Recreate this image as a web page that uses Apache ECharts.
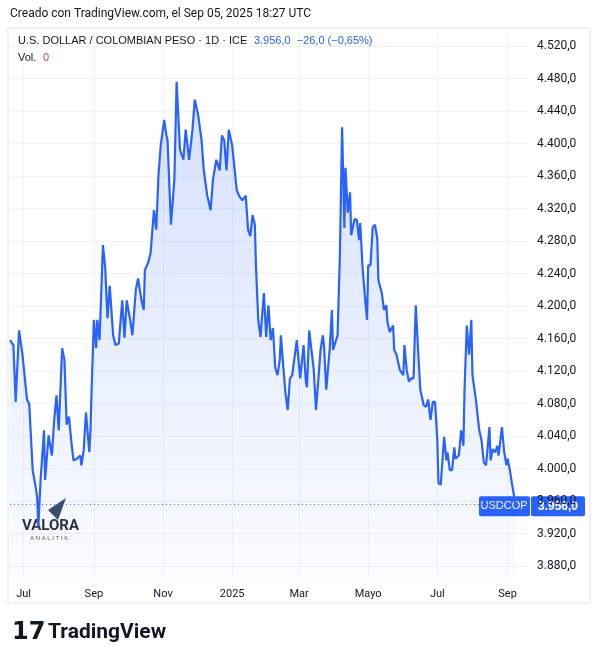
<!DOCTYPE html>
<html><head><meta charset="utf-8">
<script src="https://cdn.jsdelivr.net/npm/echarts@6/dist/echarts.min.js"></script>
<style>html,body{margin:0;padding:0;background:#fff}#c{width:598px;height:664px}</style>
</head><body><div id="c"></div>
<script>
// day number since 2024-07-01
const days=[-12,-11,-9,-7,-4,-1,3,5,8,11,12,13,15,18,19,22,25,27,29,31,34,36,38,40,42,44,47,50,51,53,55,58,59,60,62,64,65,67,70,72,74,76,79,81,84,87,89,91,94,96,99,101,104,106,107,110,112,115,117,119,121,124,126,127,130,133,135,138,141,143,146,149,151,154,157,159,162,165,167,170,173,175,177,179,181,184,188,190,193,196,198,200,202,204,205,207,
209,212,214,216,218,220,222,224,226,227,229,231,233,235,237,241,244,247,249,250,252,256,258,262,264,265,267,270,272,273,277,279,281,283,284,286,288,289,292,294,296,297,299,301,303,304,306,308,310,312,313,316,318,320,321,323,326,327,329,332,335,336,338,340,342,344,346,348,350,351,353,355,357,358,359,361,363,365,366,368,371,373,374,376,378,380,381,384,386,388,389,391,393,395,396,399,402,404,406,408,411,412,414,416,418,419,422,424,426,427,429,431,433,434];
const values=[4158,4160,4152,4082,4170,4140,4085,4079,3998,3974,3964,3928,3986,4047,3986,4041,4016,4060,4090,4047,4148,4134,4054,4064,4035,4010,4012,4016,4004,4022,4069,4020,4047,4097,4183,4148,4183,4158,4275,4247,4185,4225,4164,4152,4154,4207,4161,4207,4183,4164,4220,4234,4207,4195,4244,4254,4265,4318,4294,4361,4398,4429,4410,4404,4300,4355,4476,4392,4380,4417,4380,4417,4454,4435,4404,4367,4336,4318,4355,4380,4367,4410,4404,4367,4417,4398,4343,4336,4330,4336,4294,4286,4312,4300,4250,4183,
4162,4216,4162,4201,4158,4173,4124,4115,4134,4164,4127,4093,4072,4111,4115,4158,4111,4152,4107,4100,4170,4121,4072,4146,4164,4152,4097,4146,4195,4146,4164,4260,4420,4296,4370,4315,4340,4287,4307,4306,4281,4302,4248,4214,4183,4250,4250,4297,4300,4283,4232,4216,4195,4201,4180,4168,4176,4146,4140,4121,4115,4152,4121,4107,4111,4111,4201,4146,4097,4097,4078,4076,4085,4072,4060,4082,4082,4035,3982,3980,4039,4010,4020,3998,3998,4026,4012,4016,4047,4028,4097,4176,4140,4183,4115,4085,4047,4035,4008,4004,4051,4010,4024,4020,4028,4016,4051,4020,4004,4012,3998,3980,3964,3956];
const monthTicks=[0,62,123,184,243,304,365,427];
const monthLabels=['Jul','Sep','Nov','2025','Mar','Mayo','Jul','Sep'];
const priceTicks=[3880,3920,3960,4000,4040,4080,4120,4160,4200,4240,4280,4320,4360,4400,4440,4480,4520];
const last=3956;
const fmt=v=>{const s=v.toFixed(1).split('.');return s[0].replace(/\B(?=(\d{3})+(?!\d))/g,'.')+','+s[1];};
const ch=echarts.init(document.getElementById('c'));
ch.setOption({
 animation:false,
 textStyle:{fontFamily:'Roboto, sans-serif'},
 graphic:[
  {type:'text',left:10,top:8,style:{text:'Creado con TradingView.com, el Sep 05, 2025 18:27 UTC',fontSize:12,fill:'#131722',fontFamily:'Roboto'}},
  {type:'rect',shape:{x:8,y:28,width:582,height:575},style:{fill:'none',stroke:'#e0e3eb',lineWidth:1}},
  {type:'text',left:18,top:35,style:{rich:{a:{fontSize:11,fill:'#131722'},b:{fontSize:11,fill:'#2962ff'}},text:'{a|U.S. DOLLAR / COLOMBIAN PESO · 1D · ICE}  {b|3.956,0  −26,0 (−0,65%)}'}},
  {type:'text',left:18,top:52,style:{rich:{a:{fontSize:11,fill:'#131722'},r:{fontSize:11,fill:'#f23645'}},text:'{a|Vol.}  {r|0}'}},
  {type:'polygon',shape:{points:[[48,510],[66,498],[58,520]]},style:{fill:'#3a4a6b'}},
  {type:'text',left:22,top:519,style:{text:'VALORA',fontSize:15,fontWeight:'bold',fill:'#2a2f3a',fontFamily:'Roboto'}},
  {type:'text',left:30,top:535,style:{text:'A N A L I T I K',fontSize:6,fill:'#555'}},
  {type:'text',left:12,top:621,style:{text:'17',fontSize:24,fontWeight:'900',fill:'#131722',fontFamily:'DejaVu Sans'}},
  {type:'text',left:48,top:622,style:{text:'TradingView',fontSize:21,fontWeight:'bold',fill:'#131722',fontFamily:'Roboto'}}
 ],
 grid:{left:10,right:70,top:30,bottom:87},
 xAxis:{type:'value',min:-12,max:445,
  axisLine:{show:false},axisTick:{show:false,customValues:monthTicks},
  axisLabel:{customValues:monthTicks,formatter:v=>monthLabels[monthTicks.indexOf(v)]||'',color:'#131722',fontSize:11,margin:12},
  splitLine:{show:true,lineStyle:{color:'#f0f3fa'}}},
 yAxis:{type:'value',position:'right',min:3866.5,max:4539.7,
  axisLine:{show:false},axisTick:{show:false,customValues:priceTicks},
  axisLabel:{customValues:priceTicks,formatter:v=>fmt(v),color:'#131722',fontSize:12,margin:9},
  splitLine:{show:true,lineStyle:{color:'#f0f3fa'}}},
 series:[{type:'line',data:days.map((d,i)=>[d,values[i]]),symbol:'none',
  lineStyle:{color:'#2962ff',width:2.2},
  areaStyle:{origin:'start',color:new echarts.graphic.LinearGradient(0,0,0,1,[{offset:0,color:'rgba(41,98,255,0.28)'},{offset:1,color:'rgba(41,98,255,0.03)'}])},
  markLine:{symbol:'none',silent:true,lineStyle:{color:'#2962ff',type:[1,3],width:1},
   label:{show:false},data:[{yAxis:last}]}
 }]
});
const y=ch.convertToPixel({yAxisIndex:0},last)+2;
ch.setOption({graphic:ch.getOption().graphic[0].elements.concat([
 {type:'rect',shape:{x:479,y:y-10,width:51,height:20,r:2},style:{fill:'#2962ff'}},
 {type:'text',x:504,y:y,style:{text:'USDCOP',fill:'#fff',fontSize:11,align:'center',verticalAlign:'middle'}},
 {type:'rect',shape:{x:531,y:y-10,width:54,height:20,r:2},style:{fill:'#2962ff'}},
 {type:'text',x:558,y:y,style:{text:fmt(last),fill:'#fff',fontSize:12,fontWeight:'bold',align:'center',verticalAlign:'middle'}}
])},{replaceMerge:['graphic']});
</script></body></html>
